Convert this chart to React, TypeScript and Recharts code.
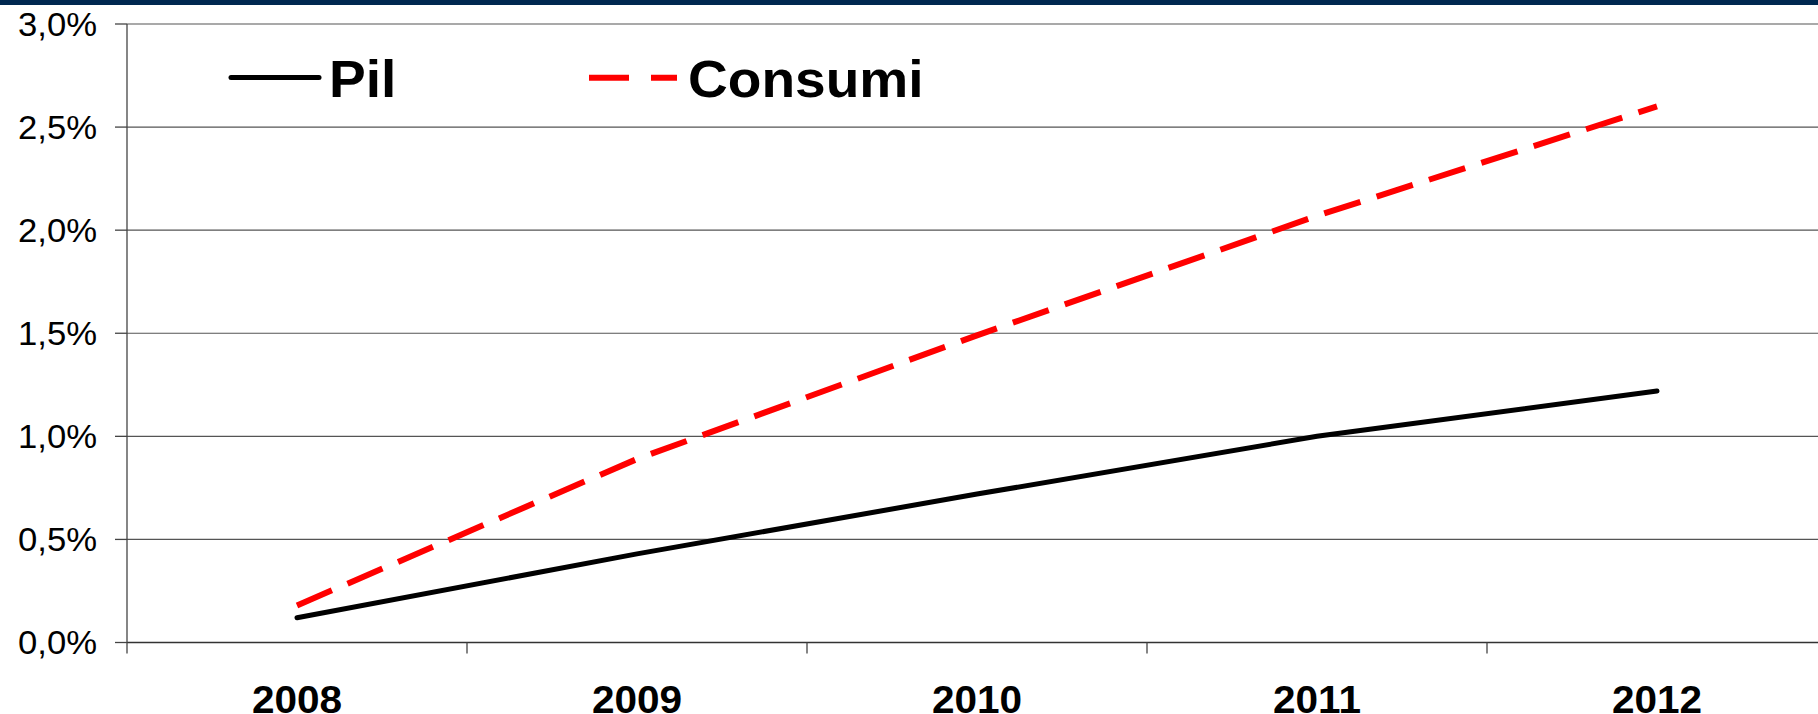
import React from 'react';
import { LineChart, Line, XAxis, YAxis, CartesianGrid, Legend } from 'recharts';

const categories = ['2008', '2009', '2010', '2011', '2012'];
const pilValues = [0.12, 0.43, 0.72, 1.0, 1.22];
const consumiValues = [0.18, 0.89, 1.49, 2.07, 2.6];
const yTicks = [0, 0.5, 1, 1.5, 2, 2.5, 3];
const seriesNames = ['Pil', 'Consumi'];

const data = categories.map((c, i) => ({
  idx: i,
  year: c,
  Pil: pilValues[i],
  Consumi: consumiValues[i],
}));

const xTicks: number[] = categories
  .flatMap((_, i) => [i - 0.5, i])
  .concat([categories.length - 0.5]);

const FONT = '"Liberation Sans", Arial, sans-serif';

const fmtY = (v: number) => v.toFixed(1).replace('.', ',') + '%';

const XTick = (props: any) => {
  const { x, y, payload } = props;
  const v = payload.value;
  if (Number.isInteger(v)) {
    return (
      <g transform={`translate(${x},${y + 70.5}) scale(1.04,1)`}>
        <text
          x={0}
          y={0}
          textAnchor="middle"
          fontSize={39}
          fontWeight="bold"
          fontFamily={FONT}
          fill="#000"
        >
          {categories[v]}
        </text>
      </g>
    );
  }
  return <line x1={x} x2={x} y1={y} y2={y + 11} stroke="#444" strokeWidth={1.3} />;
};

const YTick = (props: any) => {
  const { x, y, payload } = props;
  return (
    <g transform={`translate(${x},${y}) scale(1.05,1)`}>
      <text
        x={0}
        y={0}
        dy="0.36em"
        textAnchor="end"
        fontSize={33}
        fontFamily={FONT}
        fill="#000"
      >
        {fmtY(payload.value)}
      </text>
    </g>
  );
};

const renderLegend = () => (
  <svg width={1000} height={130} style={{ display: 'block' }}>
    <line x1={231} x2={319} y1={77.5} y2={77.5} stroke="#000" strokeWidth={5} strokeLinecap="round" />
    <g transform="translate(329,96.7) scale(1.08,1)">
      <text x={0} y={0} fontSize={51} fontWeight="bold" fontFamily={FONT} fill="#000">
        {seriesNames[0]}
      </text>
    </g>
    <line x1={589} x2={677} y1={77.7} y2={77.7} stroke="#ff0000" strokeWidth={6} strokeDasharray="40 22" />
    <g transform="translate(688,96.7) scale(1.08,1)">
      <text x={0} y={0} fontSize={51} fontWeight="bold" fontFamily={FONT} fill="#000">
        {seriesNames[1]}
      </text>
    </g>
  </svg>
);

export default function App() {
  return (
    <div
      style={{
        position: 'absolute',
        top: 0,
        left: 0,
        width: 1818,
        height: 714,
        overflow: 'hidden',
        background: '#fff',
      }}
    >
      <LineChart
        width={1827}
        height={714}
        data={data}
        margin={{ top: 24, right: 0, bottom: 0, left: 0 }}
      >
        <CartesianGrid vertical={false} stroke="#555" strokeWidth={1.2} />
        <XAxis
          type="number"
          dataKey="idx"
          domain={[-0.5, 4.5]}
          ticks={xTicks}
          interval={0}
          allowDecimals
          height={71.5}
          tickSize={0}
          tickMargin={0}
          tickLine={false}
          tick={<XTick />}
          axisLine={{ stroke: '#333', strokeWidth: 1.3 }}
        />
        <YAxis
          type="number"
          domain={[0, 3]}
          ticks={yTicks}
          interval={0}
          width={127}
          tickSize={12}
          tickMargin={18}
          tick={<YTick />}
          tickLine={{ stroke: '#444', strokeWidth: 1.3 }}
          axisLine={{ stroke: '#444', strokeWidth: 1.3 }}
        />
        <Legend
          layout="horizontal"
          verticalAlign="middle"
          align="center"
          content={renderLegend}
          wrapperStyle={{ position: 'absolute', top: 0, left: 0, width: 1000, height: 130 }}
        />
        <Line
          type="linear"
          dataKey="Consumi"
          stroke="#ff0000"
          strokeWidth={6}
          strokeDasharray="38 17"
          dot={false}
          activeDot={false}
          isAnimationActive={false}
        />
        <Line
          type="linear"
          dataKey="Pil"
          stroke="#000"
          strokeWidth={5}
          strokeLinecap="round"
          dot={false}
          activeDot={false}
          isAnimationActive={false}
        />
      </LineChart>
      <div
        style={{
          position: 'absolute',
          top: 0,
          left: 0,
          width: 1818,
          height: 5,
          background: '#002850',
        }}
      />
    </div>
  );
}
